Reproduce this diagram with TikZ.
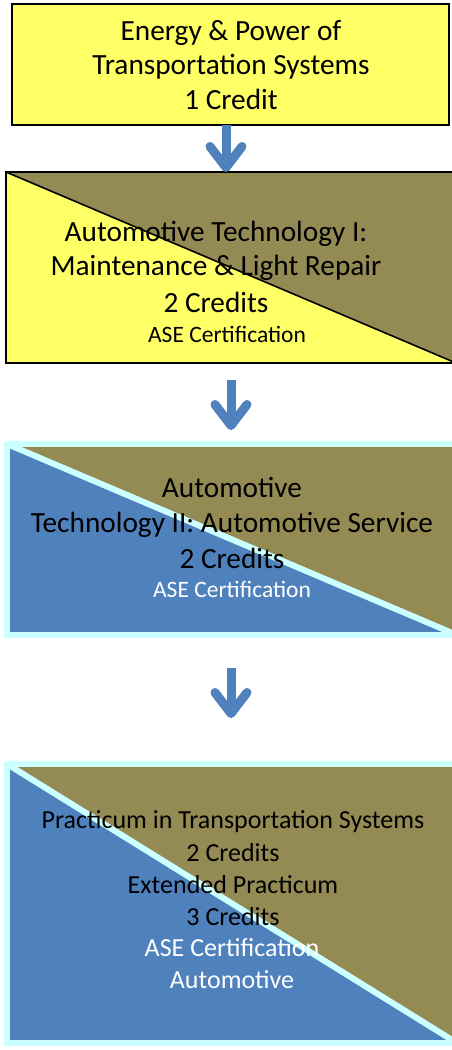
\documentclass[tikz,border=0pt]{standalone}
\usepackage{fontspec}
\setmainfont{Carlito}
\usetikzlibrary{arrows.meta}
\definecolor{yel}{HTML}{FFFF66}
\definecolor{oli}{HTML}{948A54}
\definecolor{blu}{HTML}{4F81BD}
\definecolor{cya}{HTML}{CCFFFF}
\begin{document}
\begin{tikzpicture}[x=1pt,y=-1pt,
  box/.style={rectangle, inner sep=0pt, outer sep=0pt},
  yelbox/.style={box, fill=yel, draw=black, line width=2.5pt},
  splitbox/.style={box, fill=yel, draw=black, line width=2.5pt,
    path picture={
      \fill[oli] (path picture bounding box.north west) -- (path picture bounding box.north east) -- (path picture bounding box.south east) -- cycle;
      \draw[black, line width=1.6pt] (path picture bounding box.north west) -- (path picture bounding box.south east);}},
  bluebox/.style={box, fill=blu, draw=cya, line width=5.5pt,
    path picture={
      \fill[oli] (path picture bounding box.north west) -- (path picture bounding box.north east) -- (path picture bounding box.south east) -- cycle;
      \draw[cya, line width=6pt] (path picture bounding box.north west) -- (path picture bounding box.south east);}},
  ln/.style={anchor=base, inner sep=0pt, font=\fontsize{29.3}{34}\selectfont},
  lnsmall/.style={anchor=base, inner sep=0pt, font=\fontsize{23.5}{28}\selectfont},
  lnmid/.style={anchor=base, inner sep=0pt, font=\fontsize{26}{31}\selectfont},
  arr/.style={draw=blu, line width=9pt, -{Straight Barb[length=21pt, width=32pt, round]}}
]
\useasboundingbox (0,0) rectangle (452,1050);

% boxes
\node[yelbox, minimum width=437pt, minimum height=121pt] (b1) at (230.5,64.5) {};
\node[splitbox, minimum width=450pt, minimum height=191pt] (b2) at (231,267.5) {};
\node[bluebox, minimum width=450pt, minimum height=191pt] (b3) at (232,539.5) {};
\node[bluebox, minimum width=450pt, minimum height=279pt] (b4) at (232,903.5) {};

% arrows
\draw[arr] ([xshift=-4.5pt]b1.south) -- ([xshift=-5pt]b2.north);
\draw[arr, shorten <=17pt, shorten >=14pt] (b2.south) -- ([xshift=-1pt]b3.north);
\draw[arr, shorten <=33pt, shorten >=46pt] ([xshift=-1pt]b3.south) -- ([xshift=-1pt]b4.north);

% box 1 text
\node[ln] (t1a) at (231,40) {Energy \& Power of};
\node[ln] (t1b) at (231,74.5) {Transportation Systems};
\node[ln] (t1c) at (231,109) {1 Credit};

% box 2 text
\node[ln] (t2a) at (216,241) {Automotive Technology I:};
\node[ln] (t2b) at (216,275) {Maintenance \& Light Repair};
\node[ln] (t2c) at (216,312) {2 Credits};
\node[lnsmall] (t2d) at (227,342) {ASE Certification};

% box 3 text
\node[ln] (t3a) at (232,497) {Automotive};
\node[ln] (t3b) at (232,532) {Technology II: Automotive Service};
\node[ln] (t3c) at (232,568) {2 Credits};
\node[lnsmall, text=white] (t3d) at (232,597) {ASE Certification};

% box 4 text
\node[lnmid] (t4a) at (233,828) {Practicum in Transportation Systems};
\node[lnmid] (t4b) at (233,861) {2 Credits};
\node[lnmid] (t4c) at (233,893) {Extended Practicum};
\node[lnmid] (t4d) at (233,925) {3 Credits};
\node[lnmid, text=white] (t4e) at (232,956) {ASE Certification};
\node[lnmid, text=white] (t4f) at (232,988) {Automotive};
\end{tikzpicture}
\end{document}
